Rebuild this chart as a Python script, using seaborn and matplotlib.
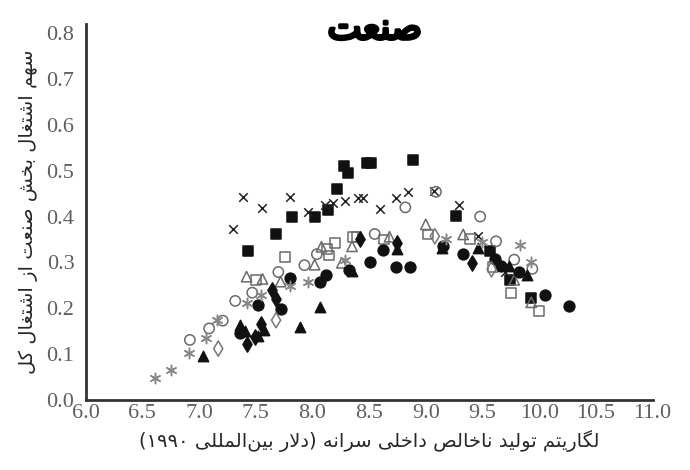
import re
import matplotlib
matplotlib.use('Agg')
import matplotlib.pyplot as plt
import matplotlib.patheffects as pe
import seaborn as sns
import pandas as pd

# ---- داده‌ها (خوانده‌شده از نمودار) ----
filled_square_x = [7.43, 7.68, 7.82, 8.02, 8.14, 8.22, 8.28, 8.31, 8.48, 8.52, 8.89, 9.27, 9.57, 9.74, 9.93]
filled_square_y = [0.324, 0.361, 0.398, 0.398, 0.415, 0.46, 0.51, 0.496, 0.517, 0.517, 0.524, 0.401, 0.324, 0.262, 0.222]

cross_x = [7.30, 7.39, 7.56, 7.80, 7.96, 8.11, 8.18, 8.29, 8.40, 8.45, 8.60, 8.74, 8.84, 9.07, 9.29, 9.46, 9.70]
cross_y = [0.372, 0.443, 0.419, 0.442, 0.41, 0.425, 0.43, 0.435, 0.441, 0.441, 0.416, 0.441, 0.453, 0.455, 0.426, 0.358, 0.28]

open_circle_x = [6.92, 7.09, 7.21, 7.32, 7.47, 7.70, 7.93, 8.04, 8.55, 8.82, 9.09, 9.48, 9.62, 9.78, 9.94]
open_circle_y = [0.131, 0.156, 0.173, 0.216, 0.234, 0.279, 0.294, 0.318, 0.362, 0.42, 0.454, 0.40, 0.346, 0.306, 0.286]

open_triangle_x = [7.42, 7.56, 7.72, 8.02, 8.08, 8.26, 8.35, 8.68, 9.00, 9.33, 9.78, 9.93]
open_triangle_y = [0.269, 0.264, 0.258, 0.295, 0.334, 0.299, 0.335, 0.356, 0.383, 0.361, 0.262, 0.213]

open_square_x = [7.50, 7.76, 8.13, 8.15, 8.20, 8.36, 8.39, 8.63, 9.02, 9.39, 9.59, 9.75, 10.00]
open_square_y = [0.261, 0.312, 0.33, 0.315, 0.342, 0.355, 0.355, 0.35, 0.361, 0.351, 0.29, 0.234, 0.194]

filled_diamond_x = [7.42, 7.49, 7.55, 7.64, 7.68, 8.42, 8.75, 9.41]
filled_diamond_y = [0.123, 0.138, 0.165, 0.239, 0.221, 0.35, 0.343, 0.299]

filled_triangle_x = [7.04, 7.36, 7.41, 7.52, 7.57, 7.89, 8.07, 8.35, 8.75, 9.14, 9.46, 9.73, 9.89]
filled_triangle_y = [0.096, 0.163, 0.15, 0.139, 0.152, 0.159, 0.202, 0.282, 0.33, 0.331, 0.331, 0.292, 0.273]

filled_circle_x = [7.36, 7.52, 7.72, 7.80, 8.07, 8.12, 8.32, 8.51, 8.62, 8.74, 8.86, 9.15, 9.33, 9.61, 9.66, 9.82, 10.05, 10.26]
filled_circle_y = [0.145, 0.207, 0.199, 0.266, 0.257, 0.272, 0.283, 0.301, 0.327, 0.289, 0.289, 0.336, 0.319, 0.308, 0.292, 0.279, 0.228, 0.204]

asterisk_x = [6.61, 6.75, 6.91, 7.06, 7.16, 7.42, 7.55, 7.80, 7.96, 8.29, 9.18, 9.50, 9.83, 9.93]
asterisk_y = [0.047, 0.065, 0.103, 0.136, 0.175, 0.212, 0.228, 0.248, 0.258, 0.306, 0.352, 0.345, 0.338, 0.30]

open_diamond_x = [7.17, 7.68, 9.08, 9.58]
open_diamond_y = [0.112, 0.174, 0.357, 0.285]

x_ticks = [6.0, 6.5, 7.0, 7.5, 8.0, 8.5, 9.0, 9.5, 10.0, 10.5, 11.0]
y_ticks = [0.0, 0.1, 0.2, 0.3, 0.4, 0.5, 0.6, 0.7, 0.8]

title_text = 'صنعت'
xlabel_text = 'لگاریتم تولید ناخالص داخلی سرانه (دلار بین\u200cالمللی ۱۹۹۰)'
ylabel_text = 'سهم اشتغال بخش صنعت از اشتغال کل'

# ---- شکل‌دهی ساده حروف فارسی (matplotlib خودش اتصال حروف را انجام نمی‌دهد) ----
FORMS = {  # مستقل، پایانی، آغازی، میانی
    'ا': '\uFE8D\uFE8E', 'د': '\uFEA9\uFEAA', 'ر': '\uFEAD\uFEAE',
    'ز': '\uFEAF\uFEB0', 'و': '\uFEED\uFEEE',
    'ب': '\uFE8F\uFE90\uFE91\uFE92', 'ت': '\uFE95\uFE96\uFE97\uFE98',
    'خ': '\uFEA5\uFEA6\uFEA7\uFEA8', 'س': '\uFEB1\uFEB2\uFEB3\uFEB4',
    'ش': '\uFEB5\uFEB6\uFEB7\uFEB8', 'ص': '\uFEB9\uFEBA\uFEBB\uFEBC',
    'ع': '\uFEC9\uFECA\uFECB\uFECC', 'غ': '\uFECD\uFECE\uFECF\uFED0',
    'ل': '\uFEDD\uFEDE\uFEDF\uFEE0', 'م': '\uFEE1\uFEE2\uFEE3\uFEE4',
    'ن': '\uFEE5\uFEE6\uFEE7\uFEE8', 'ه': '\uFEE9\uFEEA\uFEEB\uFEEC',
    'ی': '\uFBFC\uFBFD\uFBFE\uFBFF', 'ک': '\uFB8E\uFB8F\uFB90\uFB91',
    'گ': '\uFB92\uFB93\uFB94\uFB95',
}


def dual(c):
    return c in FORMS and len(FORMS[c]) == 4


def farsi(text):
    out = []
    i, n = 0, len(text)
    while i < n:
        c = text[i]
        if c not in FORMS:
            if c != '\u200c':
                out.append(c)
            i += 1
            continue
        jp = i > 0 and dual(text[i - 1])
        if c == 'ل' and i + 1 < n and text[i + 1] == 'ا':
            out.append('\uFEFC' if jp else '\uFEFB')
            i += 2
            continue
        jn = dual(c) and i + 1 < n and text[i + 1] in FORMS
        idx = (3 if jn else 1) if jp else (2 if jn else 0)
        out.append(FORMS[c][idx])
        i += 1
    s = ''.join(out)[::-1].translate(str.maketrans('()', ')('))
    return re.sub('[۰-۹0-9]+', lambda m: m.group(0)[::-1], s)


groups = [
    (filled_square_x, filled_square_y, 's', '#111111', '#111111', 55),
    (cross_x, cross_y, 'x', '#222222', '#222222', 38),
    (open_circle_x, open_circle_y, 'o', 'none', '#6a6a6a', 55),
    (open_triangle_x, open_triangle_y, '^', 'none', '#6a6a6a', 55),
    (open_square_x, open_square_y, 's', 'none', '#6a6a6a', 50),
    (filled_diamond_x, filled_diamond_y, 'd', '#111111', '#111111', 60),
    (filled_triangle_x, filled_triangle_y, '^', '#111111', '#111111', 55),
    (filled_circle_x, filled_circle_y, 'o', '#111111', '#111111', 60),
    (asterisk_x, asterisk_y, (6, 2, 0), '#888888', '#888888', 55),
    (open_diamond_x, open_diamond_y, 'd', 'none', '#777777', 60),
]

sns.set_style('white')
fig, ax = plt.subplots(figsize=(6.9, 4.7), dpi=100)
fig.subplots_adjust(left=0.124, right=0.9457, bottom=0.149, top=0.949)
ax.patch.set_visible(False)

for gx, gy, marker, face, edge, size in groups:
    df = pd.DataFrame({'x': gx, 'y': gy})
    sns.scatterplot(data=df, x='x', y='y', ax=ax, marker=marker, s=size,
                    facecolor=face, edgecolor=edge, linewidth=1.1, zorder=3,
                    clip_on=False)

ax.set_xlim(6.0, 11.0)
ax.set_ylim(0.0, 0.82)
ax.set_xticks(x_ticks)
ax.set_yticks(y_ticks)
ax.set_xticklabels([f'{v:.1f}' for v in x_ticks])
ax.set_yticklabels([f'{v:.1f}' for v in y_ticks])
for lab in ax.get_xticklabels() + ax.get_yticklabels():
    lab.set_fontfamily('Liberation Serif')
    lab.set_fontsize(16)
    lab.set_color('#5f5f5f')
ax.tick_params(direction='in', length=7, width=1.2, color='#333333')
ax.tick_params(axis='x', pad=3)
ax.tick_params(axis='y', pad=8)

sns.despine(ax=ax)
for side in ['left', 'bottom']:
    ax.spines[side].set_linewidth(2)
    ax.spines[side].set_color('#333333')

ax.set_xlabel(farsi(xlabel_text), fontsize=14, family='DejaVu Sans', labelpad=5)
ax.set_ylabel(farsi(ylabel_text), fontsize=14, family='DejaVu Sans', labelpad=6)
fig.text(0.543, 0.938, farsi(title_text), fontsize=26, color='black',
         family='DejaVu Sans', ha='center', va='center', zorder=10,
         path_effects=[pe.withStroke(linewidth=2.4, foreground='black')])

fig.savefig('out.png', dpi=100)
